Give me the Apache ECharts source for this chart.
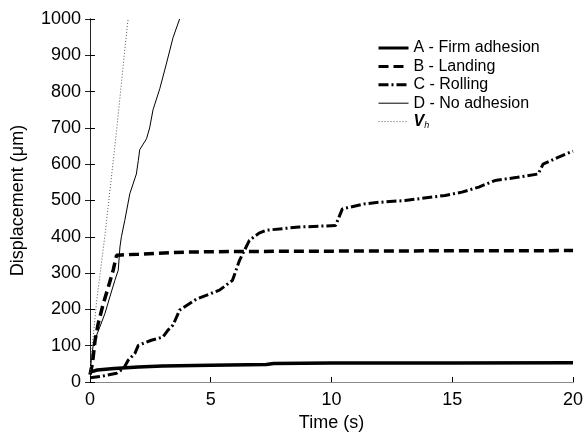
<!DOCTYPE html>
<html><head><meta charset="utf-8">
<script src="https://cdn.jsdelivr.net/npm/echarts@6/dist/echarts.min.js"></script>
<style>html,body{margin:0;padding:0;background:#fff}#c{width:586px;height:439px}</style>
</head><body><div id="c"></div>
<script>
var xTicks = [0, 5, 10, 15, 20];
var yTicks = [0, 100, 200, 300, 400, 500, 600, 700, 800, 900, 1000];
var seriesNames = ['A - Firm adhesion', 'B - Landing', 'C - Rolling', 'D - No adhesion', 'Vh'];
var firmAdhesion = [[0,27],[0.3,33],[1,37],[2,41],[3,44],[5,46],[7.3,48],[7.6,51],[10,52],[15,52],[20,53]];
var landing = [[0,20],[0.1,50],[0.21,115],[0.34,161],[0.55,216],[0.76,262],[0.96,308],[1.1,349],[1.3,350],[2,352],[3.5,357],[5,359],[8,360],[12,361],[20,362]];
var rolling = [[0,12],[0.5,16],[1.1,24],[1.4,38],[1.58,60],[1.86,79],[2.0,101],[2.54,115],[3.02,124],[3.23,143],[3.44,157],[3.71,198],[4.4,228],[5.36,253],[5.9,280],[6.19,335],[6.6,390],[7.0,410],[7.29,418],[8.66,427],[10.17,431],[10.45,477],[11.4,491],[11.96,495],[13.05,500],[14.7,514],[15.4,523],[16.1,537],[16.77,555],[17.7,564],[18.56,573],[18.76,600],[19.38,619],[20,636]];
var noAdhesion = [[0,30],[0.14,106],[0.41,152],[0.62,189],[0.82,234],[1.03,280],[1.17,308],[1.24,372],[1.3,400],[1.44,445],[1.65,519],[1.92,573],[2.0,610],[2.06,640],[2.34,670],[2.47,700],[2.61,750],[2.89,808],[3.16,876],[3.44,949],[3.71,1000]];
var vh = [[0,25],[0.07,80],[0.27,220],[0.62,405],[1.1,692],[1.55,985],[1.58,1000]];

var font = 'Liberation Sans, Arial, sans-serif';
var widths = [3.5, 3.5, 3, 1, 1];
var dashes = ['solid', [10, 5], [10, 3, 2, 3], 'solid', [1, 2]];
var colors = ['#000', '#000', '#000', '#000', '#555'];
var chart = echarts.init(document.getElementById('c'));
function mkSeries(i, data) {
  return {name: seriesNames[i], type: 'line', data: data, symbol: 'none', showSymbol: false,
    lineStyle: {width: widths[i], type: dashes[i], color: colors[i]}, itemStyle: {color: colors[i]}, color: colors[i], animation: false};
}
chart.setOption({
  animation: false,
  grid: {left: 90, right: 11, top: 19, bottom: 57},
  legend: {
    orient: 'vertical', left: 372, top: 35, itemWidth: 30, itemHeight: 16, itemGap: 2.4,
    data: seriesNames.map(function (n, i) {
      return {name: n, lineStyle: {width: Math.min(widths[i], 3), type: dashes[i], color: colors[i]}, itemStyle: {opacity: 0}};
    }),
    itemStyle: {opacity: 0},
    textStyle: {fontFamily: font, fontSize: 16, color: '#000', lineHeight: 16,
      rich: {v: {fontFamily: font, fontSize: 16, fontWeight: 'bold', fontStyle: 'italic', color: '#000'},
             s: {fontFamily: font, fontSize: 9, fontStyle: 'italic', color: '#000', verticalAlign: 'bottom', padding: [8, 0, 0, 0]}}},
    formatter: function (n) { return n === 'Vh' ? '{v|V}{s|h}' : n; }
  },
  xAxis: [{
    type: 'value', min: 0, max: 20, interval: 5,
    name: 'Time (s)', nameLocation: 'middle', nameGap: 32,
    nameTextStyle: {fontFamily: font, fontSize: 18, color: '#000'},
    axisLine: {lineStyle: {color: '#000', width: 1}},
    axisTick: {inside: true, length: 5, lineStyle: {color: '#000'}},
    axisLabel: {fontFamily: font, fontSize: 18, color: '#000', margin: 9,
      formatter: function (v) { return xTicks.indexOf(v) >= 0 ? String(v) : ''; }},
    splitLine: {show: false}
  }, {
    type: 'value', min: 0, max: 20, interval: 5, position: 'top',
    axisLine: {lineStyle: {color: '#888', width: 1}},
    axisTick: {show: false}, axisLabel: {show: false}, splitLine: {show: false}
  }],
  yAxis: [{
    type: 'value', min: 0, max: 1000, interval: 100,
    name: 'Displacement (\u03bcm)', nameLocation: 'middle', nameGap: 63,
    nameTextStyle: {fontFamily: font, fontSize: 18, color: '#000'},
    axisLine: {show: true, lineStyle: {color: '#000', width: 1}},
    axisTick: {show: true, inside: true, length: 5, lineStyle: {color: '#000'}},
    axisLabel: {fontFamily: font, fontSize: 18, color: '#000', margin: 9,
      formatter: function (v) { return yTicks.indexOf(v) >= 0 ? String(v) : ''; }},
    splitLine: {show: false}
  }, {
    type: 'value', min: 0, max: 1000, interval: 100, position: 'right',
    axisLine: {show: true, lineStyle: {color: '#222', width: 1}},
    axisTick: {show: true, inside: true, length: 5, lineStyle: {color: '#222'}},
    axisLabel: {show: false}, splitLine: {show: false}
  }],
  series: [
    mkSeries(0, firmAdhesion),
    mkSeries(1, landing),
    mkSeries(2, rolling),
    mkSeries(3, noAdhesion),
    mkSeries(4, vh)
  ]
});
</script></body></html>
